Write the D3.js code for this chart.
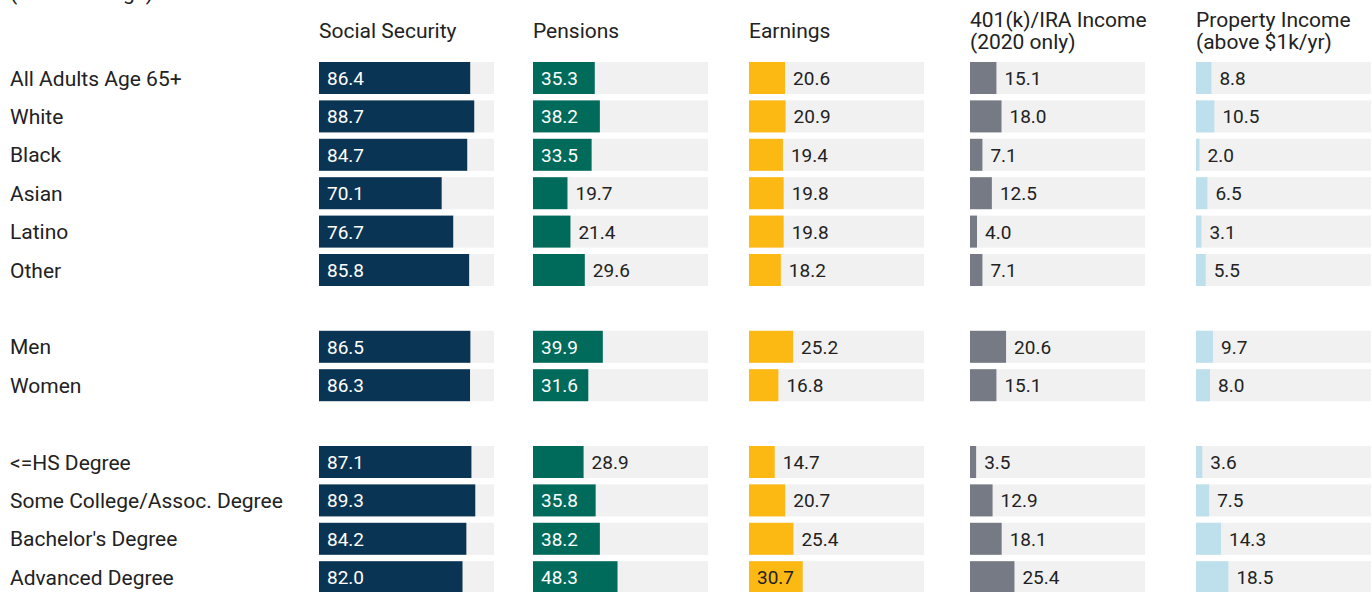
<!DOCTYPE html>
<html>
<head>
<meta charset="utf-8">
<script src="https://cdn.jsdelivr.net/npm/d3@7"></script>
<style>
  body { margin: 0; background: #fff; }
  svg { display: block; font-family: Roboto, "Noto Sans", sans-serif; }
</style>
</head>
<body>
<script>
// row labels, blank slot after "Other" and after "Women"
var groups = ["All Adults Age 65+", "White", "Black", "Asian", "Latino", "Other",
  "Men", "Women",
  "<=HS Degree", "Some College/Assoc. Degree", "Bachelor's Degree", "Advanced Degree"];
var breaksAfter = ["Other", "Women"];

var ss       = [86.4, 88.7, 84.7, 70.1, 76.7, 85.8, 86.5, 86.3, 87.1, 89.3, 84.2, 82.0];
var pensions = [35.3, 38.2, 33.5, 19.7, 21.4, 29.6, 39.9, 31.6, 28.9, 35.8, 38.2, 48.3];
var earnings = [20.6, 20.9, 19.4, 19.8, 19.8, 18.2, 25.2, 16.8, 14.7, 20.7, 25.4, 30.7];
var k401     = [15.1, 18.0, 7.1, 12.5, 4.0, 7.1, 20.6, 15.1, 3.5, 12.9, 18.1, 25.4];
var property = [8.8, 10.5, 2.0, 6.5, 3.1, 5.5, 9.7, 8.0, 3.6, 7.5, 14.3, 18.5];

var headers = [["Social Security"], ["Pensions"], ["Earnings"],
  ["401(k)/IRA Income", "(2020 only)"], ["Property Income", "(above $1k/yr)"]];

var columns = [
  { values: ss,       color: "#0a3453", ink: "#fff", x0: 319 },
  { values: pensions, color: "#006b5b", ink: "#fff", x0: 533 },
  { values: earnings, color: "#fdb913", ink: "#222", x0: 749 },
  { values: k401,     color: "#767a85", ink: "#fff", x0: 970 },
  { values: property, color: "#bde0ec", ink: "#222", x0: 1196 }
];

var W = 1372, H = 592;
var svg = d3.select("body").append("svg").attr("width", W).attr("height", H);

// slot index for every row (gaps take one slot)
var slots = [];
var s = 0;
groups.forEach(function (g) {
  slots.push(s);
  s++;
  if (breaksAfter.indexOf(g) >= 0) s++;
});

var y = d3.scaleBand()
  .domain(d3.range(s))
  .range([62, 593.2])
  .paddingInner(0.1667)
  .paddingOuter(0)
  .align(0);

// subtitle, mostly above the top edge as in the original
svg.append("text")
  .attr("x", 10).attr("y", 0)
  .attr("font-size", 21).attr("fill", "#222")
  .text("(In Percentage)");

// row labels
svg.selectAll(".rowlabel")
  .data(groups)
  .enter()
  .append("text")
  .attr("class", "rowlabel")
  .attr("x", 10)
  .attr("y", function (d, i) { return y(slots[i]) + y.bandwidth() / 2; })
  .attr("dy", "0.36em")
  .attr("font-size", 21)
  .attr("fill", "#222")
  .text(function (d) { return d; });

columns.forEach(function (col, c) {
  var x = d3.scaleLinear().domain([0, 100]).range([col.x0, col.x0 + 175]);
  var g = svg.append("g");

  // header
  var hd = headers[c];
  g.selectAll(".hd")
    .data(hd)
    .enter()
    .append("text")
    .attr("x", col.x0)
    .attr("y", function (d, i) {
      return hd.length == 1 ? 38 : 27 + i * 22;
    })
    .attr("font-size", 21)
    .attr("fill", "#222")
    .text(function (d) { return d; });

  // background track
  g.selectAll(".bg")
    .data(col.values)
    .enter()
    .append("rect")
    .attr("x", x(0))
    .attr("y", function (d, i) { return y(slots[i]); })
    .attr("width", x(100) - x(0))
    .attr("height", y.bandwidth())
    .attr("fill", "#f1f1f1");

  // value bar
  g.selectAll(".bar")
    .data(col.values)
    .enter()
    .append("rect")
    .attr("x", x(0))
    .attr("y", function (d, i) { return y(slots[i]); })
    .attr("width", function (d) { return x(d) - x(0); })
    .attr("height", y.bandwidth())
    .attr("fill", col.color);

  // value label, inside when the bar is long enough
  g.selectAll(".val")
    .data(col.values)
    .enter()
    .append("text")
    .attr("x", function (d) { return d > 30 ? x(0) + 8 : x(d) + 8; })
    .attr("y", function (d, i) { return y(slots[i]) + y.bandwidth() / 2; })
    .attr("dy", "0.37em")
    .attr("font-size", 19)
    .attr("fill", function (d) { return d > 30 ? col.ink : "#222"; })
    .text(function (d) { return d3.format(".1f")(d); });
});
</script>
</body>
</html>
